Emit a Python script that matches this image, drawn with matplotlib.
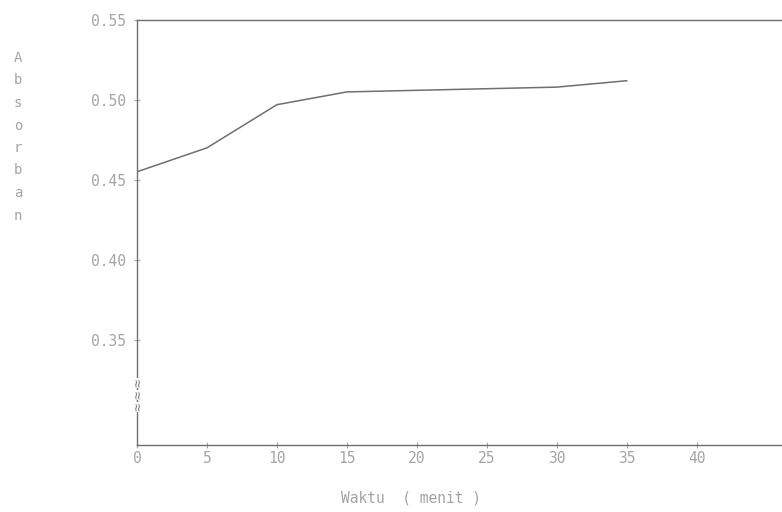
import numpy as np
import matplotlib
matplotlib.use('Agg')
import matplotlib.pyplot as plt

plt.rcParams['font.family'] = 'DejaVu Sans Mono'
plt.rcParams['font.size'] = 10

# data
waktu = [0, 5, 10, 15, 20, 25, 30, 35]
absorban = [0.455, 0.470, 0.497, 0.505, 0.506, 0.507, 0.508, 0.512]

xticks = [0, 5, 10, 15, 20, 25, 30, 35, 40]
yticks = [0.35, 0.40, 0.45, 0.50, 0.55]

line_col = '#6f6f6f'
text_col = '#a4a4a4'

fig = plt.figure(figsize=(7.82, 5.12), dpi=100)
ax = fig.add_axes([0.1752, 0.1309, 0.8248, 0.83])

ax.plot(waktu, absorban, color=line_col, linewidth=1.1)

ax.set_xlim(0, 46.1)
ax.set_ylim(0.284, 0.55)
ax.set_xticks(xticks)
ax.set_yticks(yticks)
ax.set_yticklabels([f'{v:.2f}' for v in yticks])

for s in ['left', 'bottom', 'top']:
    ax.spines[s].set_color(line_col)
    ax.spines[s].set_linewidth(1.0)
ax.spines['right'].set_visible(False)

ax.tick_params(axis='both', colors=text_col, labelcolor=text_col,
               direction='inout', length=4, width=0.8, labelsize=10.5)
ax.tick_params(axis='x', pad=2)
ax.tick_params(axis='y', pad=6)

# axis break mark on the y axis (stacked squiggles)
for yp in [383, 395, 407]:
    fig.text(138 / 782, 1 - yp / 512, '\u2248', rotation=90, ha='center', va='center',
             color='#888888', fontsize=10,
             bbox=dict(facecolor='white', edgecolor='none', pad=0.5))

# y label as stacked letters
label = 'Absorban'
for i, ch in enumerate(label):
    fig.text(18 / 782, 1 - (58 + i * 22.5) / 512, ch, ha='center', va='center',
             color=text_col, fontsize=10)

fig.text(411 / 782, 1 - 498 / 512, 'Waktu  ( menit )', ha='center', va='center',
         color=text_col, fontsize=10.5)

fig.savefig('out.png', dpi=100)
